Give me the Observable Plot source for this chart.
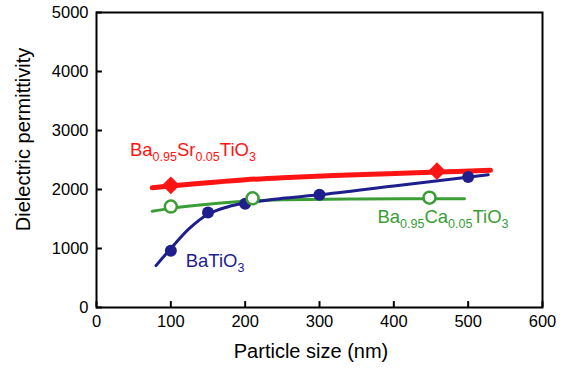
<!DOCTYPE html>
<html><head><meta charset="utf-8">
<script src="https://cdn.jsdelivr.net/npm/d3@7"></script>
<script src="https://cdn.jsdelivr.net/npm/@observablehq/plot@0.6"></script>
<style>body{margin:0;background:#fff;font-family:"Liberation Sans",Arial,sans-serif;}</style>
</head><body><div id="chart"></div>
<script>
// BaTiO3 measured points
const btoSize = [100, 150, 200, 300, 500];
const btoPerm = [960, 1610, 1760, 1910, 2210];
// BaTiO3 fitted curve
const btoFitSize = [80, 100, 125, 150, 175, 200, 250, 300, 400, 527];
const btoFitPerm = [710, 1000, 1340, 1580, 1700, 1770, 1850, 1910, 2060, 2250];
// Ba0.95Sr0.05TiO3
const bstSize = [100, 458];
const bstPerm = [2070, 2310];
const bstFitSize = [75, 100, 150, 200, 250, 350, 458, 530];
const bstFitPerm = [2030, 2060, 2115, 2165, 2200, 2250, 2295, 2325];
// Ba0.95Ca0.05TiO3
const bctSize = [100, 210, 448];
const bctPerm = [1710, 1850, 1862];
const bctFitSize = [75, 100, 150, 200, 250, 350, 495];
const bctFitPerm = [1630, 1680, 1750, 1800, 1825, 1840, 1845];
// ticks
const xTicks = [0, 100, 200, 300, 400, 500, 600];
const yTicks = [0, 1000, 2000, 3000, 4000, 5000];
// labels
const labelParts = [
  [["Ba",0],["0.95",1],["Sr",0],["0.05",1],["TiO",0],["3",1]],
  [["BaTi",0],["O",0],["3",1]],
  [["Ba",0],["0.95",1],["Ca",0],["0.05",1],["TiO",0],["3",1]]
];
const labelX = [45, 120, 378];
const labelY = [2660, 790, 1525];
const colors = ["#ff1414", "#1e1e8c", "#3a9d36"];

const pts = (xs, ys) => xs.map((x, i) => ({x, y: ys[i]}));
const labels = labelParts.map((p, i) => ({parts: p, x: labelX[i], y: labelY[i], color: colors[i]}));

function subRender(index, scales, values, dims, context, next) {
  const g = next(index, scales, values, dims, context);
  d3.select(g).selectAll("text").each(function(_, k) {
    const d = labels[index[k]];
    const t = d3.select(this);
    t.text(null);
    let down = false;
    for (const [s, sub] of d.parts) {
      const ts = t.append("tspan").text(s);
      if (sub && !down) { ts.attr("dy", 5).attr("font-size", 12.5); down = true; }
      else if (sub) { ts.attr("font-size", 12.5); }
      else if (down) { ts.attr("dy", -5); down = false; }
    }
  });
  return g;
}

const chart = Plot.plot({
  width: 564, height: 374,
  marginLeft: 96, marginRight: 22, marginTop: 12, marginBottom: 67,
  style: {fontFamily: "'Liberation Sans', Arial, sans-serif", color: "#000", background: "#fff"},
  x: {domain: [0, 600]},
  y: {domain: [0, 5000]},
  marks: [
    Plot.axisX({ticks: xTicks, tickSize: 0, tickPadding: 8, tickFormat: d => String(d), fontSize: 16.5, label: null}),
    Plot.axisY({ticks: yTicks, tickSize: 0, tickPadding: 8, tickFormat: d => String(d), fontSize: 16.5, label: null}),
    Plot.ruleX(xTicks, {x: d => d, y1: 0, y2: 100, stroke: "#000", strokeWidth: 2}),
    Plot.ruleY(yTicks, {y: d => d, x1: 0, x2: 8, stroke: "#000", strokeWidth: 2}),
    Plot.frame({stroke: "#000", strokeWidth: 2}),
    Plot.text(["Particle size (nm)"], {frameAnchor: "bottom", dx: -8.5, dy: 50, fontSize: 20, fill: "#000"}),
    Plot.text(["Dielectric permittivity"], {frameAnchor: "left", textAnchor: "middle", dx: -73, dy: -20.5, rotate: -90, fontSize: 20, fill: "#000"}),
    Plot.line(pts(bctFitSize, bctFitPerm), {x: "x", y: "y", stroke: colors[2], strokeWidth: 3, curve: "catmull-rom"}),
    Plot.line(pts(btoFitSize, btoFitPerm), {x: "x", y: "y", stroke: colors[1], strokeWidth: 3, curve: "catmull-rom"}),
    Plot.line(pts(bstFitSize, bstFitPerm), {x: "x", y: "y", stroke: colors[0], strokeWidth: 5, curve: "catmull-rom"}),
    Plot.dot(pts(btoSize, btoPerm), {x: "x", y: "y", r: 6, fill: colors[1], stroke: "none"}),
    Plot.dot(pts(bctSize, bctPerm), {x: "x", y: "y", r: 6, fill: "#fff", stroke: colors[2], strokeWidth: 2.5}),
    Plot.dot(pts(bstSize, bstPerm), {x: "x", y: "y", r: 8, symbol: "diamond2", fill: colors[0], stroke: "none"}),
    Plot.text(labels, {x: "x", y: "y", text: d => d.parts.map(p => p[0]).join(""), fill: "color", textAnchor: "start", fontSize: 18.5, render: subRender})
  ]
});
document.getElementById("chart").appendChild(chart);
</script></body></html>
